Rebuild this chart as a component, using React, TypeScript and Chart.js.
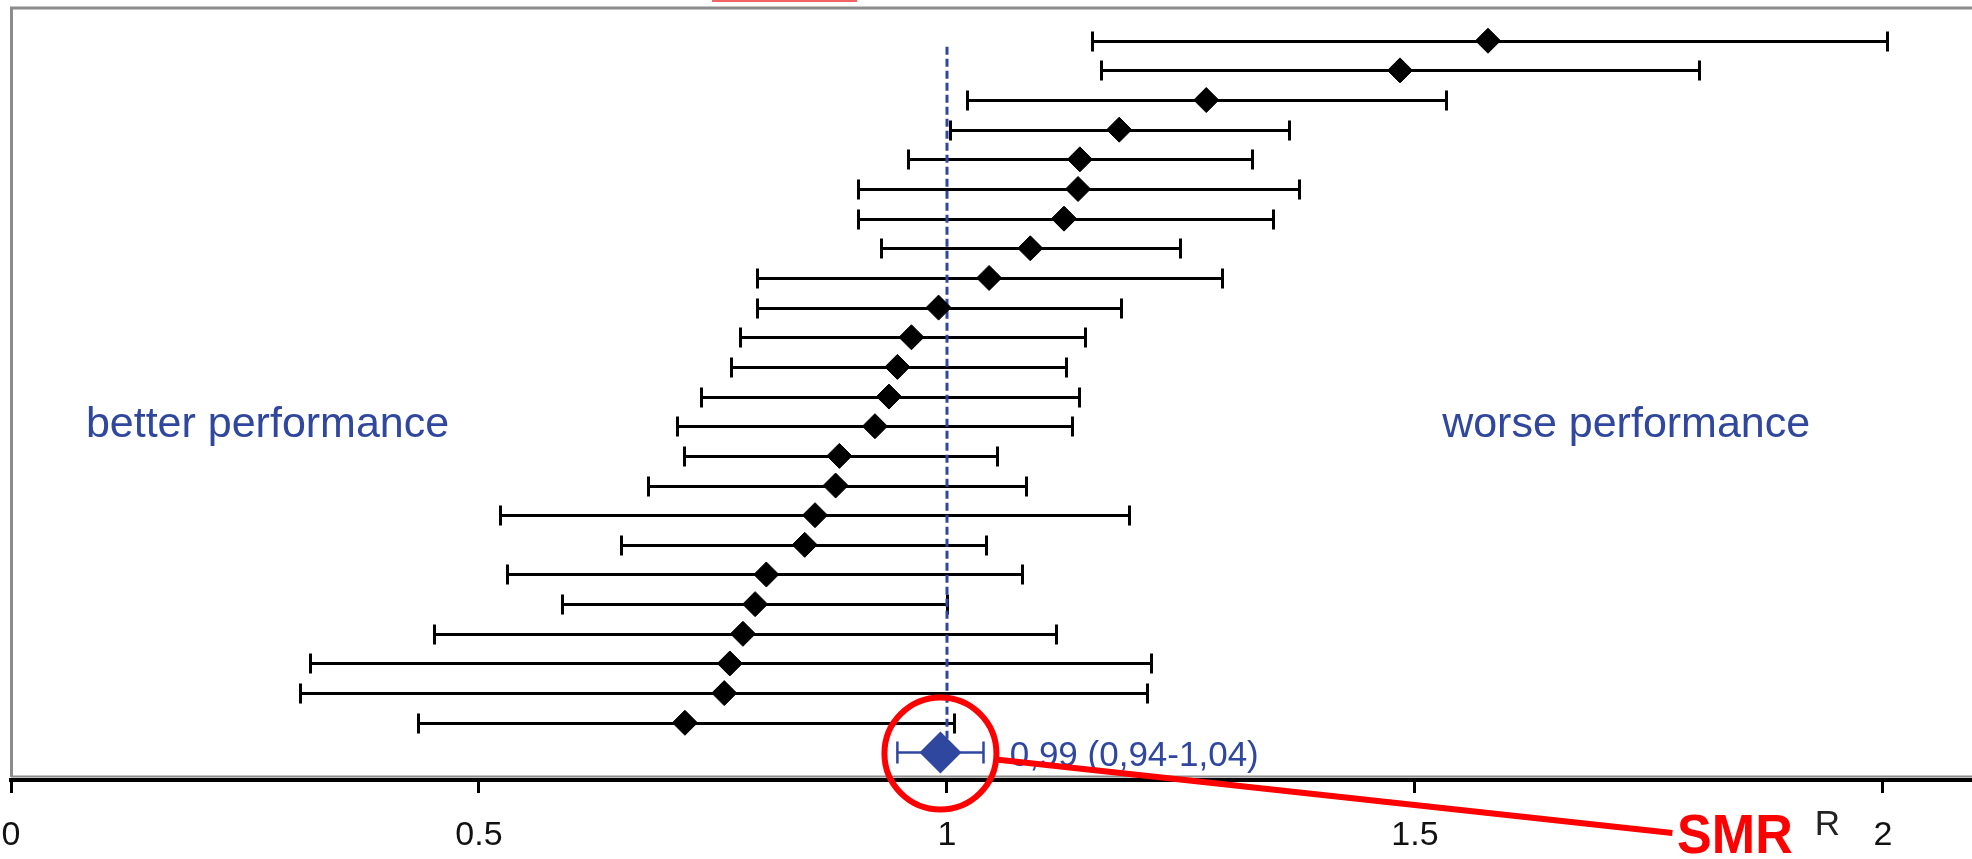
import React, { useEffect, useRef } from "react";
import { Chart, registerables } from "chart.js";

Chart.register(...registerables);

// ---- Data (rows listed top to bottom) ----
const unitIds = [
  "U1", "U2", "U3", "U4", "U5", "U6", "U7", "U8", "U9", "U10", "U11", "U12",
  "U13", "U14", "U15", "U16", "U17", "U18", "U19", "U20", "U21", "U22", "U23", "U24",
];
const estimates = [
  1.578, 1.484, 1.277, 1.184, 1.142, 1.14, 1.125, 1.089, 1.045, 0.991, 0.962, 0.947,
  0.938, 0.923, 0.885, 0.881, 0.859, 0.848, 0.807, 0.795, 0.782, 0.768, 0.762, 0.72,
];
const lowerCI = [
  1.155, 1.165, 1.021, 1.003, 0.958, 0.905, 0.905, 0.93, 0.797, 0.797, 0.779, 0.769,
  0.737, 0.712, 0.719, 0.681, 0.522, 0.652, 0.53, 0.589, 0.452, 0.319, 0.309, 0.435,
];
const upperCI = [
  2.004, 1.803, 1.533, 1.365, 1.326, 1.376, 1.348, 1.249, 1.294, 1.186, 1.147, 1.127,
  1.141, 1.134, 1.053, 1.084, 1.194, 1.042, 1.08, 1.0, 1.116, 1.218, 1.214, 1.007,
];
const smrEstimate = [0.993];
const smrLower = [0.947];
const smrUpper = [1.039];
const smrText = "0,99 (0,94-1,04)";
const referenceValue = 1;
const xTickValues = [0, 0.5, 1, 1.5, 2];
const xTickLabels = ["0", "0.5", "1", "1.5", "2"];
const axisTitle = "R";
const leftNote = "better performance";
const rightNote = "worse performance";
const calloutText = "SMR";

const BLUE = "#3047a0";
const FONT = "'Liberation Sans', Arial, Helvetica, sans-serif";

const rowY = (i: number) => estimates.length + 1 - i; // top row = 25, summary = 1

const forestPlugin = {
  id: "forestPlugin",
  beforeDatasetsDraw(chart: any) {
    const { ctx, chartArea, scales } = chart;
    const x = scales.x;
    const y = scales.y;
    ctx.save();
    // frame of plot area
    ctx.strokeStyle = "#8c8c8c";
    ctx.lineWidth = 3;
    ctx.beginPath();
    ctx.moveTo(chartArea.left + 0.5, chartArea.bottom - 3);
    ctx.lineTo(chartArea.left + 0.5, chartArea.top - 1);
    ctx.lineTo(chartArea.right, chartArea.top - 1);
    ctx.stroke();
    ctx.lineWidth = 2;
    ctx.beginPath();
    ctx.moveTo(chartArea.left, chartArea.bottom - 3.5);
    ctx.lineTo(chartArea.right, chartArea.bottom - 3.5);
    ctx.stroke();

    // black error bars
    ctx.strokeStyle = "#000";
    ctx.lineWidth = 3;
    estimates.forEach((_, i) => {
      const py = Math.round(y.getPixelForValue(rowY(i))) + 0.5;
      const x1 = Math.round(x.getPixelForValue(lowerCI[i])) + 0.5;
      const x2 = Math.round(x.getPixelForValue(upperCI[i])) + 0.5;
      ctx.beginPath();
      ctx.moveTo(x1, py);
      ctx.lineTo(x2, py);
      ctx.moveTo(x1, py - 10);
      ctx.lineTo(x1, py + 10);
      ctx.moveTo(x2, py - 10);
      ctx.lineTo(x2, py + 10);
      ctx.stroke();
    });

    // summary error bar
    ctx.strokeStyle = BLUE;
    ctx.lineWidth = 2.5;
    const sy = y.getPixelForValue(1);
    const s1 = x.getPixelForValue(smrLower[0]);
    const s2 = x.getPixelForValue(smrUpper[0]);
    ctx.beginPath();
    ctx.moveTo(s1, sy);
    ctx.lineTo(s2, sy);
    ctx.moveTo(s1, sy - 11);
    ctx.lineTo(s1, sy + 11);
    ctx.moveTo(s2, sy - 11);
    ctx.lineTo(s2, sy + 11);
    ctx.stroke();
    ctx.restore();
  },
  afterDatasetsDraw(chart: any) {
    const { ctx, chartArea, scales } = chart;
    const x = scales.x;
    const y = scales.y;
    ctx.save();

    // side notes
    ctx.fillStyle = BLUE;
    ctx.font = `43px ${FONT}`;
    ctx.textBaseline = "alphabetic";
    ctx.textAlign = "left";
    const noteY = y.getPixelForValue(12.0) + 11;
    ctx.fillText(leftNote, x.getPixelForValue(0.08), noteY);
    ctx.fillText(rightNote, x.getPixelForValue(1.529), noteY);

    // summary value text
    const sx = x.getPixelForValue(smrEstimate[0]);
    const sy = y.getPixelForValue(1);
    ctx.font = `35px ${FONT}`;
    ctx.fillText(smrText, x.getPixelForValue(1.067), sy + 14);

    // red highlight circle and pointer
    ctx.strokeStyle = "#ff0000";
    ctx.lineWidth = 6;
    const r = 56;
    ctx.beginPath();
    ctx.arc(sx, sy + 1, r, 0, Math.PI * 2);
    ctx.stroke();
    const ex = x.getPixelForValue(1.775);
    const ey = chartArea.bottom + 53;
    const ang = Math.atan2(ey - (sy + 1), ex - sx);
    ctx.lineWidth = 6;
    ctx.beginPath();
    ctx.moveTo(sx + r * Math.cos(ang), sy + 1 + r * Math.sin(ang));
    ctx.lineTo(ex, ey);
    ctx.stroke();

    // SMR callout
    ctx.fillStyle = "#ff0000";
    ctx.font = `bold 56px ${FONT}`;
    ctx.save();
    ctx.translate(x.getPixelForValue(1.78), chartArea.bottom + 73);
    ctx.scale(0.93, 1);
    ctx.fillText(calloutText, 0, 0);
    ctx.restore();

    // axis title
    ctx.fillStyle = "#222";
    ctx.font = `35px ${FONT}`;
    ctx.fillText(axisTitle, x.getPixelForValue(1.927), chartArea.bottom + 55);

    // clipped red frame fragment at the very top
    ctx.fillStyle = "#f36464";
    ctx.fillRect(x.getPixelForValue(0.749), 0, 145, 2);
    ctx.restore();
  },
};

export default function App() {
  const canvasRef = useRef<HTMLCanvasElement | null>(null);

  useEffect(() => {
    const canvas = canvasRef.current;
    if (!canvas) return;
    const chart = new Chart(canvas, {
      type: "scatter",
      data: {
        datasets: [
          {
            label: "SMR",
            data: smrEstimate.map((v) => ({ x: v, y: 1 })),
            pointStyle: "rectRot",
            pointRadius: 21,
            pointBackgroundColor: BLUE,
            pointBorderColor: BLUE,
            pointBorderWidth: 0,
            order: 0,
          } as any,
          {
            label: "Units",
            data: estimates.map((v, i) => ({ x: v, y: rowY(i) })),
            pointStyle: "rectRot",
            pointRadius: 12.5,
            pointBackgroundColor: "#000",
            pointBorderColor: "#000",
            pointBorderWidth: 1,
            order: 1,
          } as any,
          {
            label: "Reference",
            type: "line",
            data: [
              { x: referenceValue, y: 24.8 },
              { x: referenceValue, y: 1 },
            ],
            showLine: true,
            borderColor: BLUE,
            borderWidth: 3,
            borderDash: [8, 4],
            pointRadius: 0,
            fill: false,
            order: 2,
          } as any,
        ],
      },
      options: {
        animation: false,
        responsive: false,
        maintainAspectRatio: false,
        layout: { autoPadding: false, padding: { left: 11, top: 9, right: 0, bottom: 0 } },
        plugins: {
          legend: { display: false },
          tooltip: { enabled: false },
        },
        scales: {
          x: {
            type: "linear",
            position: "bottom",
            min: 0,
            max: 2.0951,
            afterBuildTicks: (scale: any) => {
              scale.ticks = xTickValues.map((v) => ({ value: v }));
            },
            afterFit: (scale: any) => {
              scale.height = 79;
              scale.paddingLeft = 0;
              scale.paddingRight = 0;
            },
            grid: {
              display: true,
              drawOnChartArea: false,
              drawTicks: true,
              tickLength: 13,
              tickWidth: 3,
              tickColor: "#000",
            },
            border: { display: true, color: "#000", width: 4 },
            ticks: {
              padding: 22,
              color: "#111",
              font: { family: FONT, size: 34 },
              maxRotation: 0,
              autoSkip: false,
              callback: (value: any) => {
                const idx = xTickValues.indexOf(Number(value));
                return idx >= 0 ? xTickLabels[idx] : "";
              },
            },
          },
          y: {
            type: "linear",
            min: 0.07,
            max: 26.07,
            display: false,
          },
        },
      } as any,
      plugins: [forestPlugin],
    });
    return () => chart.destroy();
  }, []);

  return (
    <div
      style={{
        position: "fixed",
        left: 0,
        top: 0,
        width: 1972,
        height: 859,
        background: "#fff",
      }}
    >
      <canvas ref={canvasRef} width={1972} height={859} style={{ display: "block" }} />
    </div>
  );
}
